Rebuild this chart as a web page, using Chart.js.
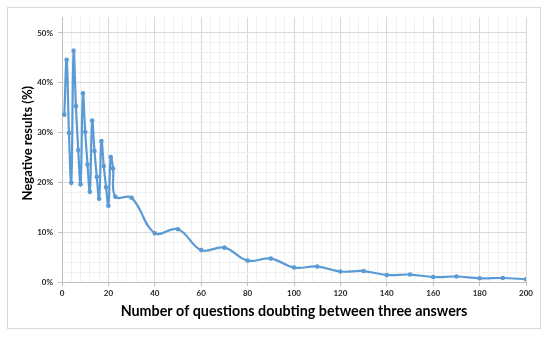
<!DOCTYPE html>
<html>
<head>
<meta charset="utf-8">
<script src="https://cdn.jsdelivr.net/npm/chart.js@4"></script>
<style>
  html, body { margin: 0; padding: 0; background: #ffffff; }
  #wrap { position: relative; width: 550px; height: 337px; }
</style>
</head>
<body>
<div id="wrap"><canvas id="negChart" width="550" height="337"></canvas></div>
<script>
// Number of doubtful questions (x) and share of negative results (y, fraction)
const questions = [1, 2, 3, 4, 5, 6, 7, 8, 9, 10, 11, 12, 13, 14, 15, 16, 17, 18, 19, 20, 21, 22, 23,
    30, 40, 50, 60, 70, 80, 90, 100, 110, 120, 130, 140, 150, 160, 170, 180, 190, 200];
const negativeShare = [0.336, 0.446, 0.299, 0.199, 0.464, 0.353, 0.265, 0.196, 0.379, 0.301, 0.236, 0.181,
    0.324, 0.263, 0.211, 0.167, 0.283, 0.233, 0.190, 0.153, 0.251, 0.228, 0.171,
    0.169, 0.098, 0.106, 0.064, 0.069, 0.043, 0.047, 0.029, 0.031, 0.021, 0.022, 0.014, 0.015,
    0.010, 0.011, 0.0074, 0.008, 0.0054];
const xMajorTicks = [0, 20, 40, 60, 80, 100, 120, 140, 160, 180, 200];
const yMajorTicks = [0, 0.1, 0.2, 0.3, 0.4, 0.5];

const points = questions.map((q, i) => ({ x: q, y: negativeShare[i] }));

const isMajorX = v => xMajorTicks.includes(Math.round(v));
const isMajorY = v => yMajorTicks.some(t => Math.abs(t - v) < 1e-6);

// fond blanc + cadre gris clair autour du graphique
const frame = {
    id: 'frame',
    beforeDraw(chart) {
        const c = chart.ctx;
        c.save();
        c.fillStyle = '#ffffff';
        c.fillRect(0, 0, chart.width, chart.height);
        c.strokeStyle = '#d9d9d9';
        c.lineWidth = 1;
        c.strokeRect(7.5, 7.5, 533, 321);
        c.restore();
    }
};

const ctx = document.getElementById('negChart').getContext('2d');
new Chart(ctx, {
    type: 'line',
    data: {
        datasets: [{
            data: points,
            borderColor: '#5b9bd5',
            backgroundColor: '#5b9bd5',
            borderWidth: 2.2,
            pointRadius: 2.3,
            pointBorderWidth: 0,
            pointHoverRadius: 3,
            tension: 0.4,
            fill: false
        }]
    },
    options: {
        responsive: false,
        animation: false,
        layout: { padding: { top: 17, right: 24, left: 0, bottom: 0 } },
        plugins: {
            legend: { display: false },
            tooltip: { enabled: false }
        },
        scales: {
            x: {
                type: 'linear',
                min: 0,
                max: 200,
                afterFit: s => { s.height = 55; },
                ticks: {
                    stepSize: 4,
                    autoSkip: false,
                    maxRotation: 0,
                    padding: 3,
                    color: '#262626',
                    font: { family: 'Lato', size: 8, weight: 'bold' },
                    callback: v => isMajorX(v) ? String(v) : ''
                },
                grid: {
                    color: c => isMajorX(c.tick.value) ? '#d9d9d9' : '#f0f0f0',
                    tickColor: c => isMajorX(c.tick.value) ? '#bfbfbf' : 'rgba(0,0,0,0)',
                    tickLength: 4
                },
                border: { color: '#bfbfbf' },
                title: {
                    display: true,
                    text: 'Number of questions doubting between three answers',
                    color: '#000000',
                    font: { family: 'Lato', size: 14.3, weight: 'bold' },
                    padding: { top: 0, bottom: 17 }
                }
            },
            y: {
                min: 0,
                max: 0.532,
                afterFit: s => { s.width = 62; },
                ticks: {
                    stepSize: 0.02,
                    autoSkip: false,
                    padding: 5,
                    color: '#262626',
                    font: { family: 'Lato', size: 8, weight: 'bold' },
                    callback: v => isMajorY(v) ? Math.round(v * 100) + '%' : ''
                },
                grid: {
                    color: c => c.tick.value > 0.521 ? 'rgba(0,0,0,0)' : (isMajorY(c.tick.value) ? '#d9d9d9' : '#f0f0f0'),
                    tickColor: c => isMajorY(c.tick.value) ? '#bfbfbf' : 'rgba(0,0,0,0)',
                    tickLength: 4
                },
                border: { color: '#bfbfbf' },
                title: {
                    display: true,
                    text: '    Negative results (%)',
                    color: '#000000',
                    font: { family: 'Lato', size: 13, weight: 'bold' },
                    padding: { top: 20, bottom: 0 }
                }
            }
        }
    },
    plugins: [frame]
});
</script>
</body>
</html>
